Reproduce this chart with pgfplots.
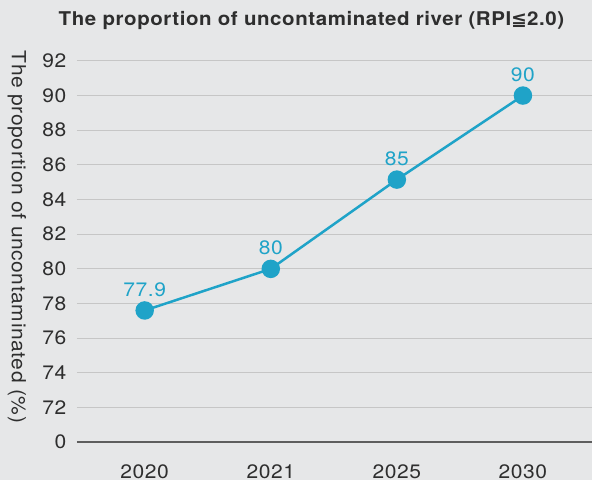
\documentclass[border=0pt]{standalone}
\usepackage{pgfplots}
\pgfplotsset{compat=1.18}
\usepackage{fontspec}
\setmainfont{TeX Gyre Heros}[FakeStretch=1.08, LetterSpace=3]
\newfontfamily\dejavu{DejaVu Sans}
\definecolor{bg}{HTML}{E6E7E8}
\definecolor{gridcol}{HTML}{C6C6C6}
\definecolor{axiscol}{HTML}{5E5E5E}
\definecolor{linecol}{HTML}{1FA3C8}
\definecolor{txt}{HTML}{2E2E2E}
\begin{document}
\begin{tikzpicture}[x=1pt,y=1pt]
\fill[bg] (0,0) rectangle (593,481);
\node[font=\bfseries\fontsize{19}{19}\selectfont, text=txt, anchor=base] at (312,455.3) {The proportion of uncontaminated river (RPI{\dejavu\bfseries ≦}2.0)};
\node[font=\fontsize{19.5}{19.5}\selectfont, text=txt, rotate=-90] at (17,243.5) {The proportion of uncontaminated (\%)};
\begin{axis}[
  at={(77pt,38pt)}, anchor=south west,
  scale only axis, width=516pt, height=382pt,
  xmin=-0.538, xmax=3.547, ymin=70, ymax=92,
  axis x line*=bottom, axis y line*=left,
  y axis line style={draw=none},
  x axis line style={draw=axiscol, line width=2.2pt, -},
  ymajorgrids, grid style={gridcol, line width=1.2pt},
  xtick={0,1,2,3}, xticklabels={2020,2021,2025,2030},
  ytick={70,72,...,92},
  yticklabels={0,72,74,76,78,80,82,84,86,88,90,92},
  major tick length=0pt,
  /pgf/number format/assume math mode=true,
  ticklabel style={font=\fontsize{19.5}{19.5}\selectfont, text=txt},
  yticklabel style={xshift=-7pt},
  xticklabel style={yshift=-19pt},
  clip=false,
]
\addplot[linecol, line width=2.5pt, mark=*, mark size=8pt,
  nodes near coords, point meta=explicit symbolic,
  every node near coord/.style={font=\fontsize{19.5}{19.5}\selectfont, text=linecol, anchor=base, inner sep=0pt, yshift=14pt}]
  table[meta=label] {
x y label
0 77.6 77.9
1 80 80
2 85.15 85
3 90 90
};
\end{axis}
\end{tikzpicture}
\end{document}
